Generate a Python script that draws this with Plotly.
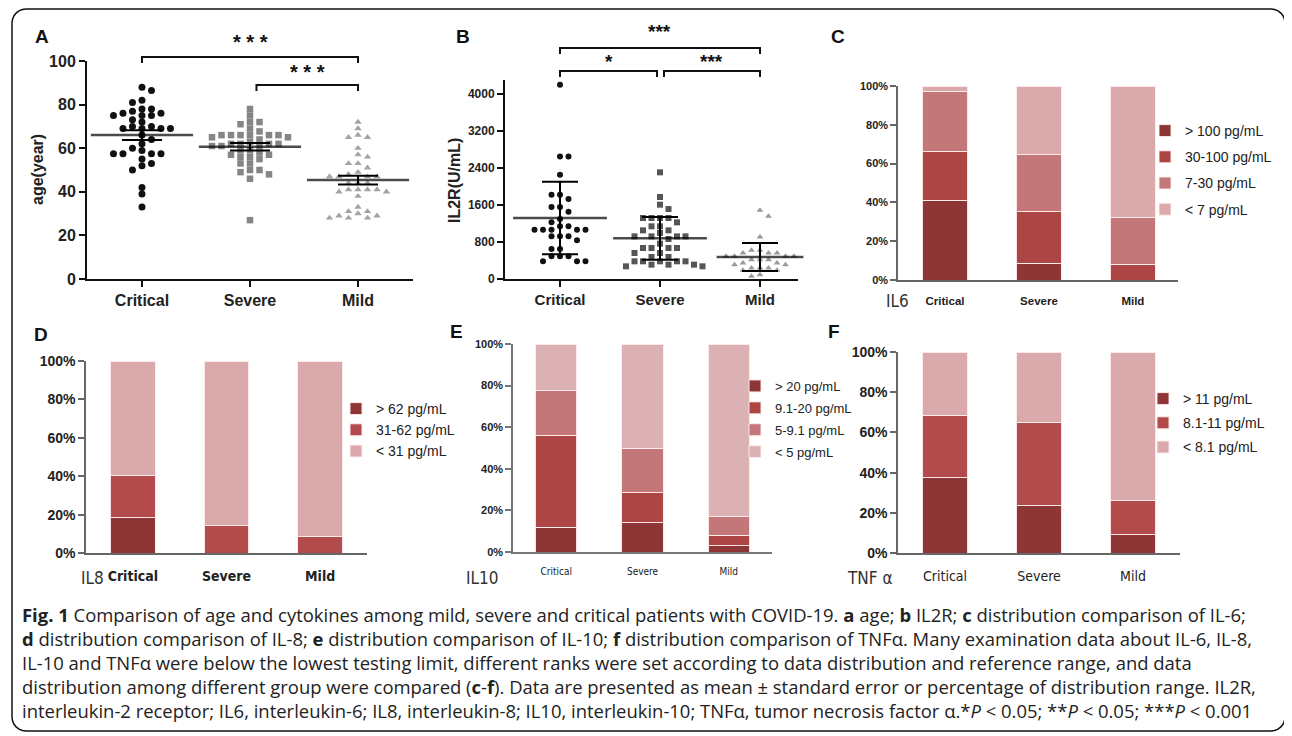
import numpy as np
import plotly.graph_objects as go

# page is shown with the browser's default 8px body margin, so the figure is drawn 8px in
W_PAGE, H_PAGE, OFF = 1292, 736, 8
W, H = W_PAGE - OFF, H_PAGE - OFF
groups = ["Critical", "Severe", "Mild"]

# ---------------- Panel A : age (mean ± SEM) ----------------
age_critical = [88, 86.5, 82, 81, 78, 78, 77, 76, 76, 75, 75, 75, 73, 72, 70, 70, 69, 69, 69, 69,
                66, 64, 62, 60, 59, 57.5, 57.5, 57.5, 57.5, 55, 53, 52, 50, 42, 39, 33]
age_severe = [78, 75, 72, 72, 71, 69, 67.7, 66, 66, 66, 66, 66, 66, 65, 65, 64, 63, 62, 62, 62, 62,
              61, 61, 61, 59, 59, 58, 57, 57, 56, 56, 55, 53, 53, 50, 50, 49, 48, 46, 27]
age_mild = [72, 69, 66, 65, 65, 60, 57, 56, 53, 53, 51, 49, 48, 47, 47, 47, 47, 44, 44, 44,
            41, 41, 41, 41, 40, 40, 38, 33, 31, 31, 30, 29, 29, 28, 28, 28]
age_mean = [66.0, 60.7, 45.4]
age_sem = [2.2, 1.7, 2.0]

# ---------------- Panel B : IL2R (mean ± SD) ----------------
il2r_critical = [4200, 2650, 2650, 2256, 1823, 1823, 1730, 1557, 1557, 1456, 1297, 1225, 1139, 1139,
                 1067, 1067, 1067, 1067, 1067, 922, 922, 922, 836, 649, 649, 490, 490, 490, 382, 382, 382]
il2r_severe = [2306, 1773, 1607, 1513, 1319, 1319, 1319, 1319, 1225, 1139, 1139, 1052, 1052, 995,
               922, 922, 922, 922, 865, 764, 670, 670, 670, 670, 562, 562, 476, 476, 382, 382, 382,
               382, 382, 310, 310, 310, 274, 274]
il2r_mild = [1485, 1355, 908, 620, 620, 562, 562, 562, 490, 490, 490, 490, 418, 418, 418, 346, 346,
             310, 310, 238, 238, 238, 187, 187, 94, 58]
il2r_mean = [1319, 879, 476]
il2r_sd = [785, 461, 302]

# ---------------- Panel C : IL6 distribution (%) ----------------
il6_labels = ["> 100 pg/mL", "30-100 pg/mL", "7-30 pg/mL", "< 7 pg/mL"]
il6_gt100 = [41.0, 8.6, 0.0]
il6_30_100 = [25.0, 26.6, 8.2]
il6_7_30 = [31.0, 29.4, 23.9]
il6_lt7 = [3.0, 35.4, 67.9]

# ---------------- Panel D : IL8 distribution (%) ----------------
il8_labels = ["> 62 pg/mL", "31-62 pg/mL", "< 31 pg/mL"]
il8_gt62 = [18.4, 0.0, 0.0]
il8_31_62 = [21.9, 14.3, 8.6]
il8_lt31 = [59.7, 85.7, 91.4]

# ---------------- Panel E : IL10 distribution (%) ----------------
il10_labels = ["> 20 pg/mL", "9.1-20 pg/mL", "5-9.1 pg/mL", "< 5 pg/mL"]
il10_gt20 = [12.0, 14.0, 3.0]
il10_9_20 = [44.0, 14.5, 5.0]
il10_5_9 = [21.5, 21.5, 9.0]
il10_lt5 = [22.5, 50.0, 83.0]

# ---------------- Panel F : TNFa distribution (%) ----------------
tnf_labels = ["> 11 pg/mL", "8.1-11 pg/mL", "< 8.1 pg/mL"]
tnf_gt11 = [37.5, 23.5, 9.0]
tnf_8_11 = [31.0, 41.5, 17.0]
tnf_lt8 = [31.5, 35.0, 74.0]

# ---------------- geometry (page pixels) ----------------
panels = {
    "A": dict(xa="x", ya="y", x=(87, 413), y=(61, 279), xr=[-0.509, 2.509], yr=[0, 100]),
    "B": dict(xa="x2", ya="y2", x=(505, 798), y=(80, 279), xr=[-0.55, 2.38], yr=[0, 4303]),
    "C": dict(xa="x3", ya="y3", x=(898, 1178), y=(86, 280), xr=[-0.5, 2.48], yr=[0, 100]),
    "D": dict(xa="x4", ya="y4", x=(86, 367), y=(361, 553), xr=[-0.5, 2.5], yr=[0, 100]),
    "E": dict(xa="x5", ya="y5", x=(513, 772), y=(344, 552), xr=[-0.5, 2.5], yr=[0, 100]),
    "F": dict(xa="x6", ya="y6", x=(898, 1180), y=(352, 553), xr=[-0.5, 2.5], yr=[0, 100]),
}


def px(xp):
    return (xp - OFF) / W


def py(yp):
    return 1 - (yp - OFF) / H


def cat_px(p, c):
    g = panels[p]
    (x0, x1), (r0, r1) = g["x"], g["xr"]
    return x0 + (c - r0) / (r1 - r0) * (x1 - x0)


def swarm(values, p, step_px, min_px):
    """Deterministic beeswarm offsets (category units) so markers do not pile up."""
    g = panels[p]
    ppu_y = (g["y"][1] - g["y"][0]) / (g["yr"][1] - g["yr"][0])
    ppu_x = (g["x"][1] - g["x"][0]) / (g["xr"][1] - g["xr"][0])
    vals = np.asarray(values, float)
    order = np.argsort(-vals, kind="stable")
    placed = []
    off = np.zeros(len(vals))
    for i in order:
        yy = vals[i] * ppu_y
        npos = sum(1 for a, _ in placed if a > 0)
        nneg = sum(1 for a, _ in placed if a < 0)
        sign = 1 if npos <= nneg else -1
        cands = [0.0]
        for j in range(1, 30):
            cands += [sign * j * step_px, -sign * j * step_px]
        chosen = cands[-1]
        for c in cands:
            if all((c - a) ** 2 + (yy - b) ** 2 >= min_px ** 2 for a, b in placed):
                chosen = c
                break
        placed.append((chosen, yy))
        off[i] = chosen / ppu_x
    return off


fig = go.Figure()
FONT = "Liberation Sans, Arial, sans-serif"
NARROW = "Liberation Sans Narrow, Arial Narrow, DejaVu Sans Condensed, Liberation Sans, sans-serif"

# ---- scatter panels ----
scatter_specs = [
    ("A", [age_critical, age_severe, age_mild], age_mean, age_sem,
     [("circle", "#111111", 7), ("square", "#858585", 6.5), ("triangle-up", "#a3a3a3", 6.5)],
     [73, 73, 73], 20, 9.5, 6.2),
    ("B", [il2r_critical, il2r_severe, il2r_mild], il2r_mean, il2r_sd,
     [("circle", "#111111", 6), ("square", "#555555", 6), ("triangle-up", "#9a9a9a", 6)],
     [67, 67, 62], 18, 8.5, 6.2),
]
for p, series, means, errs, styles, mlen, capw, step, mind in scatter_specs:
    g = panels[p]
    for i, (vals, (sym, col, size)) in enumerate(zip(series, styles)):
        off = swarm(vals, p, step, mind)
        fig.add_trace(go.Scatter(
            x=i + off, y=vals, mode="markers", xaxis=g["xa"], yaxis=g["ya"],
            marker=dict(symbol=sym, color=col, size=size, line=dict(width=0)),
            showlegend=False, cliponaxis=False, hoverinfo="y"))
    fig.add_trace(go.Scatter(
        x=[0, 1, 2], y=means, mode="markers", xaxis=g["xa"], yaxis=g["ya"],
        marker=dict(symbol="line-ew", size=mlen, color="#000", line=dict(color="#000", width=2.5)),
        error_y=dict(type="data", array=errs, color="#000", thickness=2, width=capw),
        showlegend=False, cliponaxis=False))

# ---- stacked bar panels ----
dark, red, mid, light = "#8e3636", "#ae4545", "#c47779", "#d9a9ab"
bar_specs = [
    ("C", "legend", il6_labels, [il6_gt100, il6_30_100, il6_7_30, il6_lt7], [dark, red, mid, light]),
    ("D", "legend2", il8_labels, [il8_gt62, il8_31_62, il8_lt31], [dark, "#b34a4b", light]),
    ("E", "legend3", il10_labels, [il10_gt20, il10_9_20, il10_5_9, il10_lt5], [dark, red, mid, "#dbb1b3"]),
    ("F", "legend4", tnf_labels, [tnf_gt11, tnf_8_11, tnf_lt8], [dark, "#b34a4b", light]),
]
for p, leg, labels, segs, cols in bar_specs:
    g = panels[p]
    for k, (lab, vals, col) in enumerate(zip(labels, segs, cols)):
        fig.add_trace(go.Bar(
            x=[0, 1, 2], y=vals, name=lab, xaxis=g["xa"], yaxis=g["ya"],
            width=0.48, marker=dict(color=col, line=dict(color="rgba(255,236,236,0.95)", width=1)),
            legend=leg, legendgroup=p + str(k), hovertemplate="%{y:.1f}%<extra>" + lab + "</extra>"))

# ---- axes ----
layout_axes = {}
axis_style = {
    "A": dict(ytick=dict(size=16, weight="bold"), xtick=dict(size=16, weight="bold"), lc="#111", lw=2,
              dtick=20, ysuf="", xticks="outside", xticklen=6),
    "B": dict(ytick=dict(size=12, weight="bold"), xtick=dict(size=15, weight="bold"), lc="#111", lw=2,
              dtick=800, ysuf="", xticks="outside", xticklen=6),
    "C": dict(ytick=dict(size=11, weight="bold"), xtick=dict(size=11.5, weight="bold"), lc="#666", lw=1.5,
              dtick=20, ysuf="%", xticks="", xticklen=0),
    "D": dict(ytick=dict(size=14, weight="bold"), xtick=dict(size=14, weight="bold", family=NARROW), lc="#666",
              lw=1.5, dtick=20, ysuf="%", xticks="", xticklen=0),
    "E": dict(ytick=dict(size=11, weight="bold"), xtick=dict(size=10, family=NARROW), lc="#777", lw=1.5,
              dtick=20, ysuf="%", xticks="", xticklen=0),
    "F": dict(ytick=dict(size=14, weight="bold"), xtick=dict(size=14, family=NARROW), lc="#666", lw=1.5,
              dtick=20, ysuf="%", xticks="", xticklen=0),
}
for p, g in panels.items():
    s = axis_style[p]
    xname = "xaxis" + g["xa"][1:]
    yname = "yaxis" + g["ya"][1:]
    xtf = dict(family=FONT, color="#222")
    xtf.update(s["xtick"])
    ytf = dict(family=FONT, color="#222")
    ytf.update(s["ytick"])
    layout_axes[xname] = dict(
        domain=[px(g["x"][0]), px(g["x"][1])], anchor=g["ya"], range=g["xr"], automargin=False,
        tickmode="array", tickvals=[0, 1, 2], ticktext=groups, showline=True,
        linecolor=s["lc"], linewidth=s["lw"], ticks="outside",
        ticklen=(s["xticklen"] if s["xticks"] else 9), tickwidth=2,
        tickcolor=(s["lc"] if s["xticks"] else "rgba(0,0,0,0)"),
        tickfont=xtf, showgrid=False, zeroline=False, fixedrange=True)
    layout_axes[yname] = dict(
        domain=[py(g["y"][1]), py(g["y"][0])], anchor=g["xa"], range=g["yr"], automargin=False,
        tick0=0, dtick=s["dtick"], ticksuffix=s["ysuf"], showline=True,
        linecolor=s["lc"], linewidth=s["lw"], ticks="outside", ticklen=6, tickwidth=s["lw"],
        tickcolor=s["lc"], tickfont=ytf, showgrid=False, zeroline=False, fixedrange=True)

shapes = []
annotations = []

# ---- y-axis titles (A, B) ----
for lab, (xl, yl) in {"age(year)": (37, 170), "IL2R(U/mL)": (454, 181)}.items():
    annotations.append(dict(text=lab, x=px(xl), y=py(yl), xref="paper", yref="paper", showarrow=False,
                            textangle=-90, xanchor="center", yanchor="middle",
                            font=dict(family=FONT, size=16, weight="bold", color="#222")))


# ---- significance brackets ----
def bracket(p, c0, c1, yline, drop, label, ylab, size):
    x0, x1 = cat_px(p, c0), cat_px(p, c1)
    path = "M {:.5f},{:.5f} L {:.5f},{:.5f} L {:.5f},{:.5f} L {:.5f},{:.5f}".format(
        px(x0), py(yline + drop), px(x0), py(yline), px(x1), py(yline), px(x1), py(yline + drop))
    shapes.append(dict(type="path", path=path, xref="paper", yref="paper",
                       line=dict(color="#111", width=2)))
    annotations.append(dict(text=label, x=px((x0 + x1) / 2), y=py(ylab), xref="paper", yref="paper",
                            showarrow=False, xanchor="center", yanchor="middle",
                            font=dict(family=FONT, size=size, weight="bold", color="#111")))


bracket("A", 0, 2, 57, 6, "* * *", 42, 20)
bracket("A", 1.06, 2, 85, 6, "* * *", 72, 20)
bracket("B", 0, 2, 48, 6, "***", 31, 19)
bracket("B", 0, 0.97, 71, 6, "*", 62, 19)
bracket("B", 1.04, 2, 71, 6, "***", 62, 19)

# ---- panel letters ----
for lab, (xl, yl) in {"A": (42, 37), "B": (463, 37), "C": (838, 37),
                      "D": (41, 334), "E": (456, 331), "F": (834, 331)}.items():
    annotations.append(dict(text=lab, x=px(xl), y=py(yl), xref="paper", yref="paper", showarrow=False,
                            xanchor="center", yanchor="middle",
                            font=dict(family=FONT, size=19, weight="bold", color="#111")))

# ---- cytokine names under bar axes ----
for lab, (xl, yl) in {"IL6": (897, 301), "IL8": (93, 578), "IL10": (482, 578), "TNF α": (870, 578)}.items():
    annotations.append(dict(text=lab, x=px(xl), y=py(yl), xref="paper", yref="paper", showarrow=False,
                            xanchor="center", yanchor="middle",
                            font=dict(family=NARROW, size=17, color="#333")))

# ---- caption ----
caption_lines = [
    "<b>Fig. 1</b> Comparison of age and cytokines among mild, severe and critical patients with COVID-19. "
    "<b>a</b> age; <b>b</b> IL2R; <b>c</b> distribution comparison of IL-6;",
    "<b>d</b> distribution comparison of IL-8; <b>e</b> distribution comparison of IL-10; "
    "<b>f</b> distribution comparison of TNFα. Many examination data about IL-6, IL-8,",
    "IL-10 and TNFα were below the lowest testing limit, different ranks were set according to data "
    "distribution and reference range, and data",
    "distribution among different group were compared (<b>c</b>-<b>f</b>). Data are presented as "
    "mean ± standard error or percentage of distribution range. IL2R,",
    "interleukin-2 receptor; IL6, interleukin-6; IL8, interleukin-8; IL10, interleukin-10; TNFα, tumor "
    "necrosis factor α.*<i>P</i> < 0.05; **<i>P</i> < 0.05; ***<i>P</i> < 0.001",
]
for i, line in enumerate(caption_lines):
    annotations.append(dict(text=line, x=px(20), y=py(614 + 24 * i), xref="paper", yref="paper",
                            showarrow=False, xanchor="left", yanchor="middle",
                            font=dict(family="Open Sans, Noto Sans, sans-serif", size=18.45, color="#222")))

# ---- rounded border (sampled quarter arcs) ----
bx0, bx1, byt, byb, rad = 12, 1285, 9, 731, 14
pts = []
for cx, cy, a0 in [(bx1 - rad, byt + rad, -90), (bx1 - rad, byb - rad, 0),
                   (bx0 + rad, byb - rad, 90), (bx0 + rad, byt + rad, 180)]:
    for t in np.linspace(a0, a0 + 90, 7):
        pts.append((cx + rad * np.cos(np.radians(t)), cy + rad * np.sin(np.radians(t))))
border = "M " + " L ".join("{:.5f},{:.5f}".format(px(a), py(b)) for a, b in pts) + " Z"
shapes.append(dict(type="path", path=border, xref="paper", yref="paper", line=dict(color="#111", width=1.5)))


# ---- legends ----
def legend_cfg(xtext, ytop, gap, size):
    return dict(x=px(xtext - 40), y=py(ytop), xanchor="left", yanchor="top", xref="container",
                yref="container", traceorder="grouped", tracegroupgap=gap, bgcolor="rgba(0,0,0,0)",
                font=dict(family=FONT, size=size, color="#222"), itemclick=False, itemdoubleclick=False)


fig.update_layout(
    width=W, height=H, margin=dict(l=0, r=0, t=0, b=0, autoexpand=False),
    paper_bgcolor="white", plot_bgcolor="white", barmode="stack",
    font=dict(family=FONT, color="#222"),
    shapes=shapes, annotations=annotations,
    legend=legend_cfg(1185, 115, 5, 14),
    legend2=legend_cfg(376, 393, 0, 14),
    legend3=legend_cfg(775, 371, 2, 13),
    legend4=legend_cfg(1183, 383, 3, 14),
    **layout_axes,
)

fig.write_html("out.html")
